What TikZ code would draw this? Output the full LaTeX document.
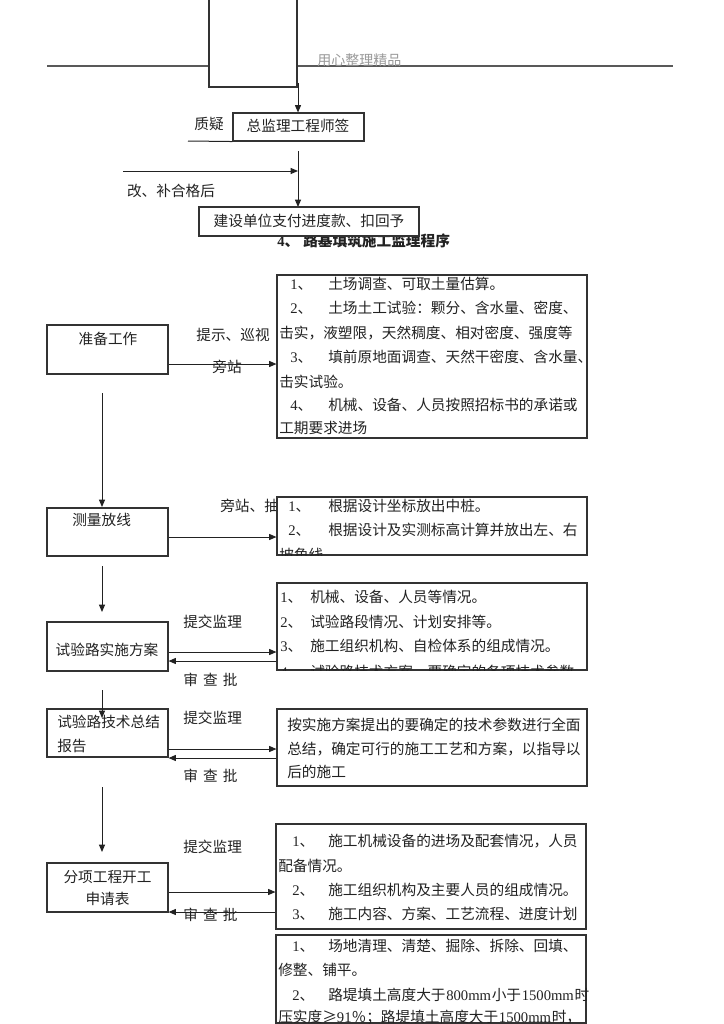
\documentclass[tikz,border=0pt]{standalone}
\usepackage{fontspec}
\setmainfont{Noto Sans CJK SC}
\newfontfamily\lat{Liberation Serif}
\usetikzlibrary{arrows.meta,fit}
\newcommand\fs{\fontsize{11pt}{13pt}\selectfont}
\newcommand\nb[2]{\makebox[#1][l]{{\lat #2}、}}
\definecolor{ink}{HTML}{222222}
\definecolor{edge}{HTML}{333333}
\begin{document}
\begin{tikzpicture}[x=0.75pt,y=-0.75pt,
  bx/.style={draw=edge, line width=0.8pt, fill=white, inner sep=0pt},
  txt/.style={anchor=west, inner sep=0pt, font=\fs, text=ink},
  ctxt/.style={anchor=center, inner sep=0pt, font=\fs, text=ink},
  arr/.style={-{Triangle[length=5.5pt,width=4.5pt]}, line width=0.75pt, draw=ink},
  ln/.style={line width=0.75pt, draw=ink}]
\useasboundingbox (0,0) rectangle (724,1024);
\fill[white] (0,0) rectangle (724,1024);

% ---------- header ----------
\coordinate (hl1) at (47,66);
\coordinate (hl2) at (673,66);
\draw[line width=0.8pt, draw=black!65] (hl1) -- (hl2);
\node[anchor=west, inner sep=0pt, font=\fontsize{10.5pt}{12pt}\selectfont, text=black!40] (hdr) at (317,60) {用心整理精品};
\node[bx, fit={(209,-5) (297,87)}] (topbox) {};

% ---------- top flow ----------
\node[bx, fit={(233,113) (364,141)}] (chief) {};
\node[ctxt] (chieft) at (298,126) {总监理工程师签};
\node[ctxt] (zy) at (209,124) {质疑};
\coordinate (zyl) at (188,141);
\draw[ln] (zyl) -- (chief.south west);
\coordinate (a0s) at (298,83);
\draw[arr] (a0s) -- (chief.north -| a0s);
\coordinate (a1s) at (298,151);
\coordinate (a1e) at (298,207);
\draw[arr] (a1s) -- (a1e);
\coordinate (h1s) at (123,171);
\coordinate (h1e) at (298,171);
\draw[arr] (h1s) -- (h1e);
\node[ctxt] (gb) at (171,191) {改、补合格后};
\node[anchor=west, inner sep=0pt, font=\fs\bfseries, text=ink] (title) at (277,241) {\nb{19.5pt}{4}路基填筑施工监理程序};
\node[bx, fit={(199,207) (419,236)}] (pay) {};
\node[ctxt] (payt) at (309,221) {建设单位支付进度款、扣回予};

% ---------- left column ----------
\node[bx, fit={(47,325) (168,374)}] (prep) {};
\node[ctxt] (prept) at (108,339) {准备工作};
\node[bx, fit={(47,508) (168,556)}] (survey) {};
\node[txt] (surveyt) at (72,520) {测量放线};
\node[bx, fit={(47,622) (168,671)}] (trial) {};
\node[ctxt] (trialt) at (107,650) {试验路实施方案};
\node[bx, fit={(47,709) (168,757)}] (summ) {};
\node[txt] (summt1) at (57,722) {试验路技术总结};
\node[txt] (summt2) at (57,746) {报告};
\node[bx, fit={(47,863) (168,912)}] (apply) {};
\node[ctxt] (applyt1) at (107.5,877) {分项工程开工};
\node[ctxt] (applyt2) at (107.5,899) {申请表};

% vertical arrows
\coordinate (v1s) at (102,393); \coordinate (v1e) at (102,507);
\coordinate (v2s) at (102,566); \coordinate (v2e) at (102,612);
\coordinate (v3s) at (102,690); \coordinate (v3e) at (102,718);
\coordinate (v4s) at (102,787); \coordinate (v4e) at (102,852);
\draw[arr] (v1s) -- (v1e);
\draw[arr] (v2s) -- (v2e);
\draw[arr] (v4s) -- (v4e);

% labels between columns
\node[ctxt] (l1a) at (233,335) {提示、巡视};
\node[ctxt] (l1b) at (227,367) {旁站};
\node[txt] (l2) at (220,506) {旁站、抽};
\node[txt] (s3) at (183,622) {提交监理};
\node[txt] (r3) at (183,680) {审\hspace{0.35em}查\hspace{0.35em}批};
\node[txt] (s4) at (183,718) {提交监理};
\node[txt] (r4) at (183,776) {审\hspace{0.35em}查\hspace{0.35em}批};
\node[txt] (s5) at (183,847) {提交监理};
\node[txt] (r5) at (183,915) {审\hspace{0.35em}查\hspace{0.35em}批};

% ---------- right boxes ----------
\node[bx, fit={(277,275) (587,438)}] (b1) {};
\node[txt] at (290,284) {\nb{28.5pt}{1}土场调查、可取土量估算。};
\node[txt] at (290,308) {\nb{28.5pt}{2}土场土工试验：颗分、含水量、密度、};
\node[txt] at (279,333) {击实，液塑限，天然稠度、相对密度、强度等};
\node[txt] at (290,357) {\nb{28.5pt}{3}填前原地面调查、天然干密度、含水量、};
\node[txt] at (279,382) {击实试验。};
\node[txt] at (290,405) {\nb{28.5pt}{4}机械、设备、人员按照招标书的承诺或};
\node[txt] at (279,428) {工期要求进场};

\node[bx, fit={(277,497) (587,555)}] (b2) {};
\begin{scope}
\clip (0,497) rectangle (724,555);
\node[txt] at (288,506) {\nb{30pt}{1}根据设计坐标放出中桩。};
\node[txt] at (288,530) {\nb{30pt}{2}根据设计及实测标高计算并放出左、右};
\node[txt] at (279,555) {坡角线};
\end{scope}

\node[bx, fit={(277,583) (587,670)}] (b3) {};
\begin{scope}
\clip (0,583) rectangle (724,670);
\node[txt] at (280,597) {\nb{22.5pt}{1}机械、设备、人员等情况。};
\node[txt] at (280,622) {\nb{22.5pt}{2}试验路段情况、计划安排等。};
\node[txt] at (280,646) {\nb{22.5pt}{3}施工组织机构、自检体系的组成情况。};
\node[txt] at (280,672) {\nb{22.5pt}{4}试验路技术方案，要确定的各项技术参数};
\end{scope}

\node[bx, fit={(277,709) (587,786)}] (b4) {};
\node[txt] at (287,725) {按实施方案提出的要确定的技术参数进行全面};
\node[txt] at (287,749) {总结，确定可行的施工工艺和方案，以指导以};
\node[txt] at (287,772) {后的施工};

\node[bx, fit={(276,824) (586,929)}] (b5) {};
\node[txt] at (292,841) {\nb{27pt}{1}施工机械设备的进场及配套情况，人员};
\node[txt] at (278,866) {配备情况。};
\node[txt] at (292,890) {\nb{27pt}{2}施工组织机构及主要人员的组成情况。};
\node[txt] at (292,914) {\nb{27pt}{3}施工内容、方案、工艺流程、进度计划};

\node[bx, fit={(276,935) (586,1023)}] (b6) {};
\begin{scope}
\clip (0,935) rectangle (724,1023);
\node[txt] at (292,946) {\nb{27pt}{1}场地清理、清楚、掘除、拆除、回填、};
\node[txt] at (278,970) {修整、铺平。};
\node[txt] at (292,995) {\nb{27pt}{2}路堤填土高度大于{\lat\kern0.5pt 800mm\kern0.5pt}小于{\lat\kern0.5pt 1500mm\kern0.5pt}时};
\node[txt] at (278,1017) {压实度≥{\lat 91}％；路堤填土高度大于{\lat\kern0.5pt 1500mm\kern0.5pt}时，};
\end{scope}

% ---------- horizontal connectors ----------
\draw[arr] (prep.east |- 0,364) -- (b1.west |- 0,364);
\draw[arr] (survey.east |- 0,537) -- (b2.west |- 0,537);
\draw[arr] (trial.east |- 0,652) -- (b3.west |- 0,652);
\draw[arr] (b3.west |- 0,661) -- (trial.east |- 0,661);
\draw[arr] (summ.east |- 0,749) -- (b4.west |- 0,749);
\draw[arr] (b4.west |- 0,758) -- (summ.east |- 0,758);
\draw[arr] (apply.east |- 0,892) -- (b5.west |- 0,892);
\draw[arr] (b5.west |- 0,912) -- (apply.east |- 0,912);

% arrow drawn over box
\draw[arr] (v3s) -- (v3e);
\end{tikzpicture}
\end{document}
